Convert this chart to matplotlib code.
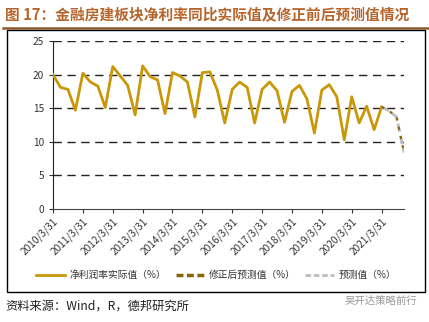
import numpy as np
import matplotlib.pyplot as plt
from matplotlib.patches import Rectangle
from matplotlib.lines import Line2D

plt.rcParams['font.family'] = ['Noto Sans CJK SC', 'DejaVu Sans']

# quarterly net profit margin, 2010Q1 .. 2021Q1
actual = [20.0, 18.1, 17.8, 14.7,
          20.2, 18.9, 18.3, 15.1,
          21.2, 19.8, 18.4, 14.0,
          21.3, 19.7, 19.2, 14.2,
          20.3, 19.8, 18.9, 13.7,
          20.3, 20.4, 17.7, 12.8,
          17.8, 18.9, 18.1, 12.8,
          17.8, 18.9, 17.6, 12.9,
          17.5, 18.4, 16.4, 11.3,
          17.7, 18.5, 16.7, 10.3,
          16.7, 12.8, 15.3, 11.8,
          15.2]
# forecasts 2021Q1 .. 2021Q4
forecast = [15.2, 14.6, 13.7, 8.4]
forecast_adj = [15.2, 14.6, 13.7, 8.4]
years = [str(y) + '/3/31' for y in range(2010, 2022)]

fig = plt.figure(figsize=(4.29, 3.22), dpi=100)
W, H = 429, 322

# title and decorations
fig.text(5 / W, 1 - 14 / H, '图 17：金融房建板块净利率同比实际值及修正前后预测值情况',
         fontsize=10.6, fontweight='bold', color='#B5652B', va='center', ha='left')
fig.add_artist(Line2D([3 / W, 1], [1 - 28 / H, 1 - 28 / H], color='#8B5A2B', lw=1.8))
fig.add_artist(Rectangle((7 / W, 1 - 292 / H), 418 / W, 262 / H, fill=False,
                         edgecolor='black', lw=1.0))
fig.text(5 / W, 1 - 306 / H, '资料来源：Wind，R，德邦研究所', fontsize=8.8,
         color='#222222', va='center', ha='left')
fig.text(345 / W, 1 - 301 / H, '吴开达策略前行', fontsize=7.5, color='#999999',
         va='center', ha='left')

ax = fig.add_axes([53 / W, 1 - 209 / H, 351 / W, 168 / H])
x_act = np.arange(len(actual))
x_fc = np.arange(len(actual) - 1, len(actual) - 1 + len(forecast))

ax.plot(x_act, actual, color='#C8980A', lw=2.0, zorder=3)
ax.plot(x_fc, forecast, color='#BDBDBD', lw=2.0, ls=(0, (3, 1.5)), zorder=3)
ax.plot(x_fc, forecast_adj, color='#8B6508', lw=1.5, ls=(0, (1.5, 3)), zorder=4)

ax.set_xlim(0, 47)
ax.set_ylim(0, 25)
ax.set_yticks(range(0, 26, 5))
ax.set_xticks(range(0, 48, 4))
ax.set_xticklabels(years, rotation=45, ha='right', rotation_mode='anchor')
ax.tick_params(axis='both', labelsize=7.3, colors='#333333', length=3, width=0.8)
ax.tick_params(axis='x', pad=2)
for v in range(5, 26, 5):
    ax.axhline(v, color='#222222', lw=1.0, ls=(0, (6, 4)), zorder=1)
for s in ['top', 'right']:
    ax.spines[s].set_visible(False)
ax.spines['left'].set_color('#222222')
ax.spines['bottom'].set_color('#444444')

handles = [Line2D([], [], color='#C8980A', lw=2.0),
           Line2D([], [], color='#8B6508', lw=2.5, ls=(0, (2, 1))),
           Line2D([], [], color='#BDBDBD', lw=2.0, ls=(0, (2, 1)))]
labels = ['净利润率实际值（%）', '修正后预测值（%）', '预测值（%）']
fig.legend(handles, labels, loc='center', bbox_to_anchor=(216 / W, 1 - 275 / H),
           ncol=3, frameon=False, fontsize=7, handlelength=3.0, columnspacing=1.0,
           handletextpad=0.4, labelcolor='#333333')

fig.savefig('out.png', dpi=100)
